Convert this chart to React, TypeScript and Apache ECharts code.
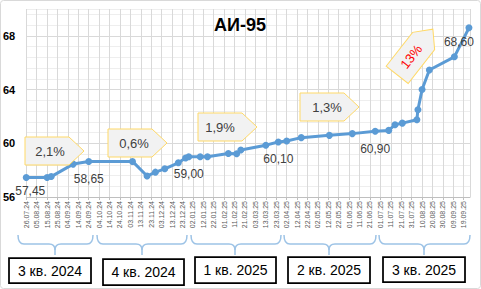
import React, { useEffect, useRef } from "react";
import * as echarts from "echarts";

// Price observations (date, rub/l)
const dates = [
  "2024-07-26", "2024-08-15", "2024-08-19", "2024-09-09", "2024-09-24",
  "2024-11-05", "2024-11-19", "2024-11-27", "2024-12-06", "2024-12-19",
  "2024-12-26", "2024-12-29", "2025-01-09", "2025-01-16", "2025-02-05",
  "2025-02-13", "2025-02-17", "2025-03-13", "2025-03-25", "2025-04-02",
  "2025-04-16", "2025-05-13", "2025-06-04", "2025-06-26", "2025-07-09",
  "2025-07-15", "2025-07-22", "2025-08-05", "2025-08-06", "2025-08-10",
  "2025-08-17", "2025-09-10", "2025-09-24",
];
const prices = [
  57.45, 57.45, 57.52, 58.45, 58.65,
  58.65, 57.56, 57.85, 58.1, 58.55,
  58.9, 59.0, 59.0, 59.0, 59.24,
  59.22, 59.5, 59.86, 60.1, 60.17,
  60.42, 60.59, 60.72, 60.9, 60.96,
  61.38, 61.5, 61.75, 62.5, 64.0,
  65.46, 66.44, 68.6,
];
const labeledDates = ["2024-07-26", "2024-09-24", "2024-12-29", "2025-03-25", "2025-06-26", "2025-09-24"];

const startDate = "2024-07-26";
const axisEndDay = 426;

const quarterLabels = ["3 кв. 2024", "4 кв. 2024", "1 кв. 2025", "2 кв. 2025", "3 кв. 2025"];
const changeLabels = ["2,1%", "0,6%", "1,9%", "1,3%", "13%"];
const title = "АИ-95";

const DAY = 86400000;
const dayOf = (d: string) => Math.round((Date.parse(d) - Date.parse(startDate)) / DAY);
const fmtDate = (day: number) => {
  const t = new Date(Date.parse(startDate) + day * DAY);
  const dd = String(t.getUTCDate()).padStart(2, "0");
  const mm = String(t.getUTCMonth() + 1).padStart(2, "0");
  const yy = String(t.getUTCFullYear() % 100).padStart(2, "0");
  return `${dd}.${mm}.${yy}`;
};

const FONT = "Liberation Sans, Arial, sans-serif";
const GZ = 10;

function brace(xL: number, xR: number, xM: number) {
  const yT = 235, yH = 244, yB = 255;
  const st = { stroke: "#9dc3e6", lineWidth: 1.5, fill: null as any };
  return [
    { type: "bezierCurve", z: GZ, shape: { x1: xL, y1: yT, cpx1: xL, cpy1: yH, x2: xL + 6, y2: yH }, style: st },
    { type: "line", z: GZ, shape: { x1: xL + 6, y1: yH, x2: xM - 6, y2: yH }, style: st },
    { type: "bezierCurve", z: GZ, shape: { x1: xM - 6, y1: yH, cpx1: xM, cpy1: yH, x2: xM, y2: yH + 6 }, style: st },
    { type: "bezierCurve", z: GZ, shape: { x1: xM + 6, y1: yH, cpx1: xM, cpy1: yH, x2: xM, y2: yH + 6 }, style: st },
    { type: "line", z: GZ, shape: { x1: xM, y1: yH + 6, x2: xM, y2: yB }, style: st },
    { type: "line", z: GZ, shape: { x1: xM + 6, y1: yH, x2: xR - 6, y2: yH }, style: st },
    { type: "bezierCurve", z: GZ, shape: { x1: xR - 6, y1: yH, cpx1: xR, cpy1: yH, x2: xR, y2: yT }, style: st },
  ];
}

function quarterBox(x: number, y: number, w: number, h: number, text: string) {
  return [
    { type: "rect", z: GZ, shape: { x, y, width: w, height: h }, style: { fill: "#fff", stroke: "#000", lineWidth: 1.75 } },
    {
      type: "text", z: GZ + 1, x: x + w / 2, y: y + h / 2,
      style: { text, fill: "#000", font: `14px ${FONT}`, align: "center", verticalAlign: "middle" },
    },
  ];
}

function callout(x: number, y: number, text: string, tx: number, ty: number) {
  // pentagon arrow: rect 44 wide + 15 tip, 28 high
  return [
    {
      type: "polygon", z: GZ,
      shape: { points: [[x, y], [x + 44, y], [x + 59, y + 14], [x + 44, y + 28], [x, y + 28]] },
      style: { fill: "#f2f2f2", stroke: "#ffd966", lineWidth: 1 },
    },
    {
      type: "text", z: GZ + 1, x: tx, y: ty,
      style: { text, fill: "#404040", font: `13px ${FONT}`, align: "center", verticalAlign: "middle" },
    },
  ];
}

export default function App() {
  const ref = useRef<HTMLDivElement>(null);
  useEffect(() => {
    document.body.style.margin = "0";
    const chart = echarts.init(ref.current!, null, { renderer: "svg" });

    const seriesData = dates.map((d, i) => {
      const item: any = { value: [dayOf(d), prices[i]] };
      if (labeledDates.includes(d)) {
        const lbl: any = {
          show: true, position: "bottom", distance: 8,
          formatter: prices[i].toFixed(2).replace(".", ","),
        };
        if (i === 0) lbl.offset = [4, -4];
        if (i === dates.length - 1) lbl.offset = [-10, -3];
        item.label = lbl;
      }
      return item;
    });

    const minorColors = ["#d9d9d9", "#eeeeee", "#eeeeee", "#eeeeee", "#eeeeee"];

    chart.setOption({
      animation: false,
      backgroundColor: "#ffffff",
      textStyle: { fontFamily: FONT },
      grid: { left: 26, right: 11, top: 9, bottom: 92, containLabel: false },
      xAxis: {
        type: "value",
        min: 0,
        max: axisEndDay,
        interval: 10,
        axisLine: { show: true, lineStyle: { color: "#bfbfbf", width: 1 } },
        axisTick: { show: true, length: 3, lineStyle: { color: "#bfbfbf" } },
        splitLine: { show: true, lineStyle: { color: "#d9d9d9", width: 1 } },
        axisLabel: {
          rotate: 90,
          margin: 4,
          fontSize: 7,
          color: "#595959",
          fontFamily: FONT,
          showMaxLabel: false,
          formatter: (v: number) => (v % 10 === 0 ? fmtDate(v) : ""),
        },
      },
      yAxis: {
        type: "value",
        min: 56,
        max: 70,
        interval: 0.8,
        axisLine: { show: false },
        axisTick: { show: false },
        splitLine: { show: true, lineStyle: { color: minorColors, width: 1 } },
        axisLabel: {
          margin: 11,
          fontSize: 11,
          fontWeight: "bold",
          color: "#000",
          fontFamily: FONT,
          showMaxLabel: false,
          formatter: (v: number) => {
            const r = (v - 56) / 4;
            return Math.abs(r - Math.round(r)) < 1e-6 ? String(Math.round(v)) : "";
          },
        },
      },
      series: [
        {
          type: "line",
          data: seriesData,
          symbol: "circle",
          symbolSize: 7,
          lineStyle: { color: "#5b9bd5", width: 3 },
          itemStyle: { color: "#5b9bd5" },
          label: { show: false, fontSize: 12, color: "#404040", fontFamily: FONT },
          emphasis: { disabled: true },
          z: 3,
        },
      ],
      graphic: [
        { type: "rect", z: GZ, shape: { x: 0.5, y: 0.5, width: 480, height: 288, r: 3 }, style: { fill: null, stroke: "#d9d9d9", lineWidth: 1 }, silent: true },
        {
          type: "text", z: GZ, x: 240, y: 25,
          style: { text: title, fill: "#000", font: `bold 18px ${FONT}`, align: "center", verticalAlign: "middle" },
        },
        ...callout(25, 137, changeLabels[0], 50, 151),
        ...callout(108, 129, changeLabels[1], 134, 143),
        ...callout(198, 113, changeLabels[2], 220, 127.5),
        ...callout(300, 93, changeLabels[3], 327, 107.5),
        {
          type: "group", z: GZ, x: 415, y: 52, rotation: (52 * Math.PI) / 180,
          children: [
            {
              type: "polygon", z: GZ,
              shape: { points: [[-29, -14], [14, -14], [29, 0], [14, 14], [-29, 14]] },
              style: { fill: "#f2f2f2", stroke: "#ffd966", lineWidth: 1 },
            },
            {
              type: "text", z: GZ + 1, x: -6, y: 0,
              style: { text: changeLabels[4], fill: "#ff0000", font: `13px ${FONT}`, align: "center", verticalAlign: "middle" },
            },
          ],
        },
        ...brace(18, 93, 55),
        ...brace(97, 187, 142),
        ...brace(191, 281, 235),
        ...brace(284, 376, 329),
        ...brace(379, 470, 424),
        ...quarterBox(9, 258, 82, 25, quarterLabels[0]),
        ...quarterBox(103, 259, 81, 26, quarterLabels[1]),
        ...quarterBox(195, 257, 81, 26, quarterLabels[2]),
        ...quarterBox(288, 257, 82, 26, quarterLabels[3]),
        ...quarterBox(383, 257, 82, 25, quarterLabels[4]),
      ],
    });
    return () => chart.dispose();
  }, []);
  return <div ref={ref} style={{ width: 481, height: 289 }} />;
}
